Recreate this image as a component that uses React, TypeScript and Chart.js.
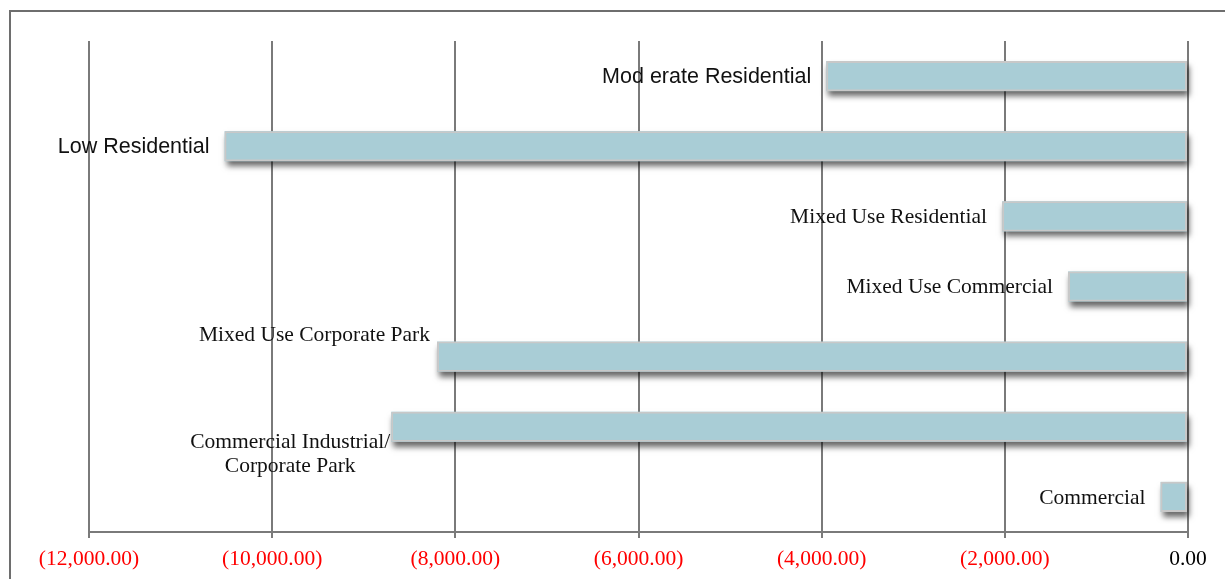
import React, { useEffect, useRef } from "react";
import { Chart, registerables } from "chart.js";

Chart.register(...registerables);

const categories = [
  "Mod erate Residential",
  "Low Residential",
  "Mixed Use Residential",
  "Mixed Use Commercial",
  "Mixed Use Corporate Park",
  "Commercial Industrial/\nCorporate Park",
  "Commercial",
];
const values = [-3950, -10520, -2030, -1310, -8200, -8700, -300];
const labelFamilies = ["sans", "sans", "serif", "serif", "serif", "serif", "serif"];
const tickValues = [-12000, -10000, -8000, -6000, -4000, -2000, 0];
const tickLabels = [
  "(12,000.00)",
  "(10,000.00)",
  "(8,000.00)",
  "(6,000.00)",
  "(4,000.00)",
  "(2,000.00)",
  "0.00",
];

const SERIF = "'Liberation Serif', 'Times New Roman', serif";
const SANS = "'Liberation Sans', Arial, sans-serif";

export default function App() {
  const ref = useRef<HTMLCanvasElement | null>(null);

  useEffect(() => {
    const canvas = ref.current;
    if (!canvas) return;

    const framePlugin = {
      id: "frame",
      beforeDraw(chart: any) {
        const c = chart.ctx;
        c.save();
        c.strokeStyle = "#6e6e6e";
        c.lineWidth = 2;
        c.beginPath();
        c.moveTo(10, 579);
        c.lineTo(10, 11);
        c.lineTo(1225, 11);
        c.stroke();
        c.restore();
      },
    };

    const barDecor = {
      id: "barDecor",
      beforeDatasetsDraw(chart: any) {
        const c = chart.ctx;
        const meta = chart.getDatasetMeta(0);
        c.save();
        c.shadowColor = "rgba(0,0,0,0.6)";
        c.shadowBlur = 6;
        c.shadowOffsetX = 2;
        c.shadowOffsetY = 5;
        c.fillStyle = "#a9cdd6";
        meta.data.forEach((bar: any) => {
          const left = Math.min(bar.x, bar.base);
          const w = Math.abs(bar.base - bar.x);
          c.fillRect(left, bar.y - bar.height / 2, w, bar.height);
        });
        c.restore();
      },
      afterDatasetsDraw(chart: any) {
        const c = chart.ctx;
        const meta = chart.getDatasetMeta(0);
        c.save();
        c.fillStyle = "#111111";
        meta.data.forEach((bar: any, i: number) => {
          const fam = labelFamilies[i] === "sans" ? SANS : SERIF;
          c.font = `21.5px ${fam}`;
          c.textBaseline = "middle";
          const lines = categories[i].split("\n");
          if (i === 4) {
            c.textAlign = "right";
            c.fillText(lines[0], bar.x - 7, bar.y - 21);
          } else if (i === 5) {
            c.textAlign = "center";
            c.fillText(lines[0], bar.x - 101, bar.y + 16);
            c.fillText(lines[1], bar.x - 101, bar.y + 40);
          } else {
            c.textAlign = "right";
            c.fillText(lines[0], bar.x - 15, bar.y + 1);
          }
        });
        c.restore();
      },
    };

    const chart = new Chart(canvas, {
      type: "bar",
      data: {
        labels: categories,
        datasets: [
          {
            data: values,
            backgroundColor: "#a9cdd6",
            borderColor: "#c8c8c8",
            borderWidth: 2,
            borderSkipped: false,
            barPercentage: 0.43,
            categoryPercentage: 1,
          },
        ],
      },
      options: {
        indexAxis: "y",
        animation: false,
        responsive: false,
        layout: { padding: { left: 89, right: 37, top: 41, bottom: 9 } },
        plugins: { legend: { display: false }, tooltip: { enabled: false } },
        scales: {
          x: {
            min: -12000,
            max: 0,
            afterBuildTicks(scale: any) {
              scale.ticks = tickValues.map((v) => ({ value: v }));
            },
            afterFit(scale: any) {
              scale.height = 38;
            },
            grid: {
              color: "#7a7a7a",
              lineWidth: 2,
              tickLength: 6,
              drawTicks: true,
            },
            border: { display: true, color: "#7a7a7a", width: 2 },
            ticks: {
              autoSkip: false,
              maxRotation: 0,
              padding: 8,
              font: { family: SERIF, size: 21.5 },
              color: (ctx: any) => (ctx.tick && ctx.tick.value === 0 ? "#000000" : "#ff0000"),
              callback: (v: any) => {
                const idx = tickValues.indexOf(Number(v));
                return idx >= 0 ? tickLabels[idx] : "";
              },
            },
          },
          y: {
            display: false,
          },
        },
      },
      plugins: [framePlugin, barDecor],
    } as any);

    return () => chart.destroy();
  }, []);

  return (
    <div style={{ position: "absolute", left: 0, top: 0, width: 1225, height: 579, background: "#fff" }}>
      <canvas ref={ref} width={1225} height={579} style={{ display: "block" }} />
    </div>
  );
}
